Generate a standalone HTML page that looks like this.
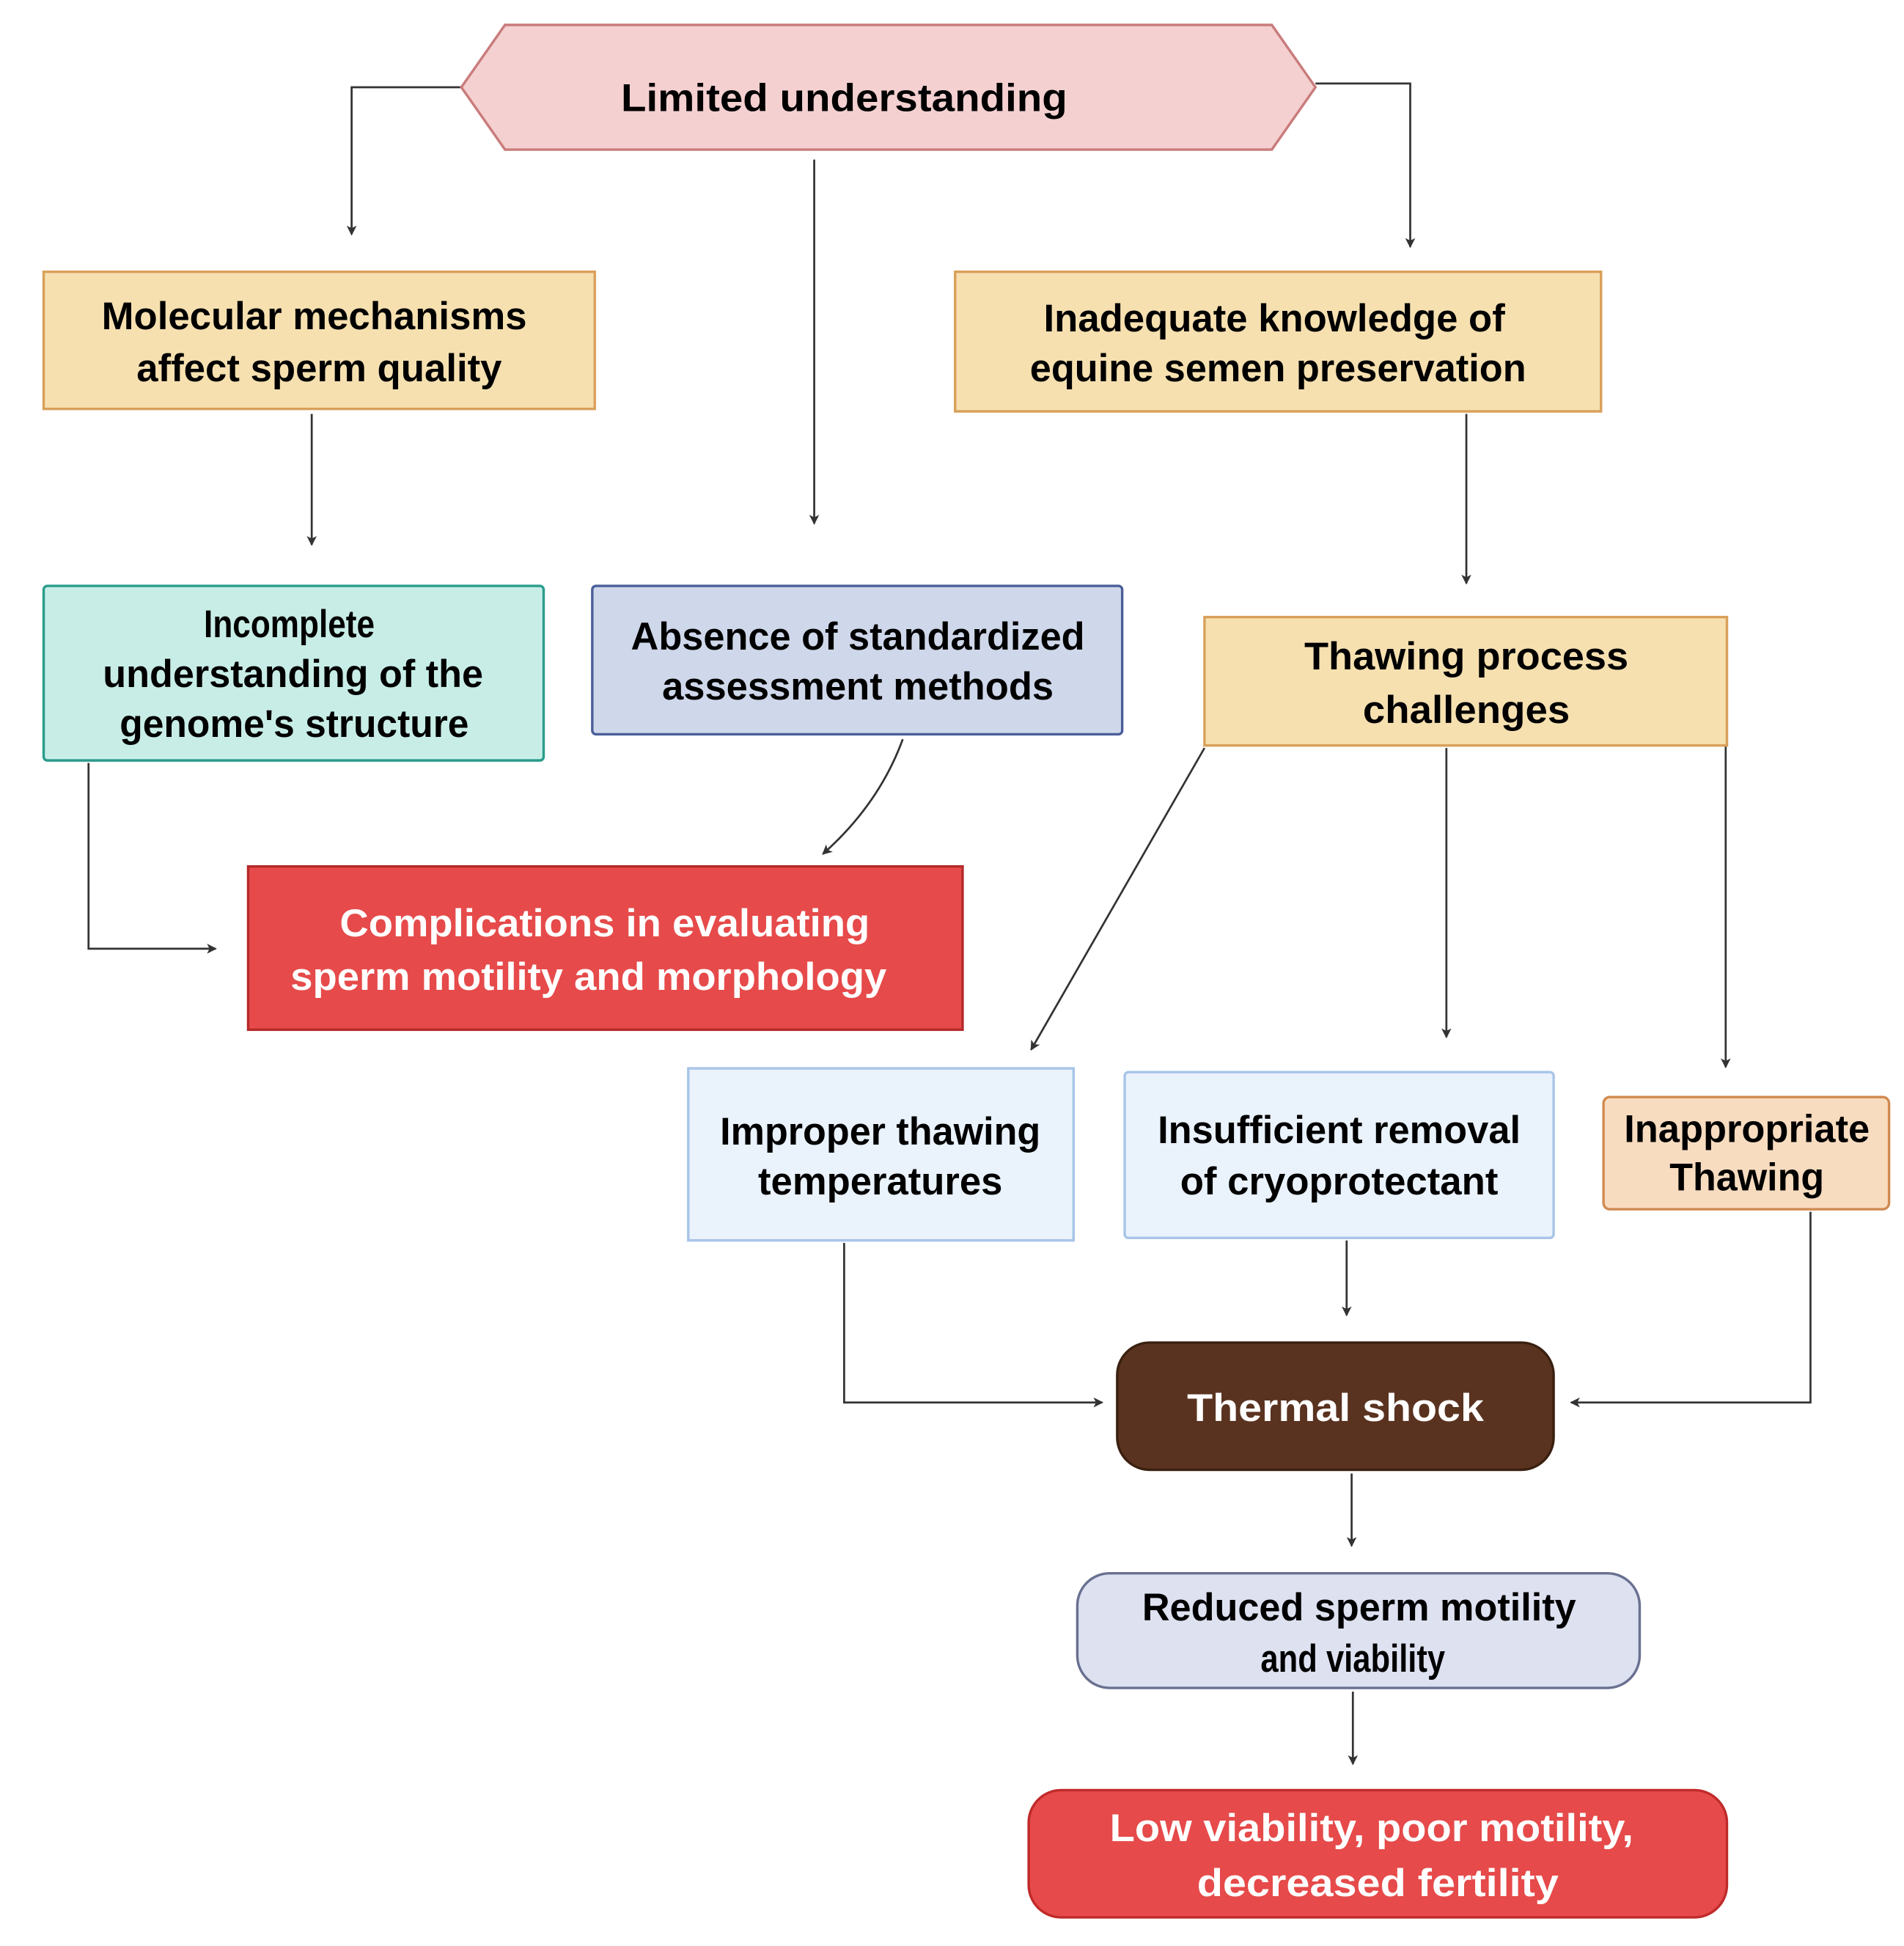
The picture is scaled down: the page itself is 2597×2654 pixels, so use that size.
<!DOCTYPE html>
<html><head><meta charset="utf-8"><style>
html,body{margin:0;padding:0;background:#fff;}
svg{display:block;}
text{font-family:"Liberation Sans Narrow","Liberation Sans",sans-serif;font-weight:bold;font-size:31px;text-anchor:middle;}
</style></head><body>
<svg width="2597" height="2654" viewBox="0 0 1527 1561" preserveAspectRatio="none" xmlns="http://www.w3.org/2000/svg">
<defs>
<marker id="a" markerWidth="8" markerHeight="8" refX="7" refY="4" orient="auto" markerUnits="userSpaceOnUse">
<path d="M0,0 L8,4 L0,8 L2,4 z" fill="#333"/></marker>
</defs>
<g stroke="#333" stroke-width="1.6" fill="none" marker-end="url(#a)">
<polyline points="370,70 282,70 282,188"/>
<polyline points="1055,67 1131,67 1131,198"/>
<polyline points="653,128 653,420"/>
<polyline points="250,332 250,437"/>
<polyline points="1176,332 1176,468"/>
<path d="M724,593 Q705,645 660,685"/>
<polyline points="71,612 71,761 173,761"/>
<polyline points="966,600 827,842"/>
<polyline points="1160,600 1160,832"/>
<polyline points="1384,598 1384,856"/>
<polyline points="677,997 677,1125 884,1125"/>
<polyline points="1080,995 1080,1055"/>
<polyline points="1452,972 1452,1125 1260,1125"/>
<polyline points="1084,1182 1084,1240"/>
<polyline points="1085,1357 1085,1415"/>
</g>
<polygon points="370,70 405,20 1020,20 1055,70 1020,120 405,120" fill="#f4d0d0" stroke="#c97b7b" stroke-width="2"/>
<text x="677" y="89" textLength="358" lengthAdjust="spacingAndGlyphs" font-size="34">Limited understanding</text>

<rect x="35" y="218" width="442" height="110" fill="#f6e0b0" stroke="#d9a05a" stroke-width="2"/>
<text x="252" y="264" textLength="341" lengthAdjust="spacingAndGlyphs">Molecular mechanisms</text>
<text x="256" y="306" textLength="293" lengthAdjust="spacingAndGlyphs">affect sperm quality</text>

<rect x="766" y="218" width="518" height="112" fill="#f6e0b0" stroke="#d9a05a" stroke-width="2"/>
<text x="1022" y="266" textLength="370" lengthAdjust="spacingAndGlyphs">Inadequate knowledge of</text>
<text x="1025" y="306" textLength="398" lengthAdjust="spacingAndGlyphs">equine semen preservation</text>

<rect x="35" y="470" width="401" height="140" rx="3" fill="#c8ede7" stroke="#2a9d8a" stroke-width="2"/>
<text x="232" y="511" textLength="137" lengthAdjust="spacingAndGlyphs">Incomplete</text>
<text x="235" y="551" textLength="305" lengthAdjust="spacingAndGlyphs">understanding of the</text>
<text x="236" y="591" textLength="280" lengthAdjust="spacingAndGlyphs">genome's structure</text>

<rect x="475" y="470" width="425" height="119" rx="3" fill="#cfd8ea" stroke="#4a5e9a" stroke-width="2"/>
<text x="688" y="521" textLength="364" lengthAdjust="spacingAndGlyphs">Absence of standardized</text>
<text x="688" y="561" textLength="314" lengthAdjust="spacingAndGlyphs">assessment methods</text>

<rect x="966" y="495" width="419" height="103" fill="#f6e0b0" stroke="#d9a05a" stroke-width="2"/>
<text x="1176" y="537" textLength="260" lengthAdjust="spacingAndGlyphs">Thawing process</text>
<text x="1176" y="580" textLength="166" lengthAdjust="spacingAndGlyphs">challenges</text>

<rect x="199" y="695" width="573" height="131" fill="#e64a4a" stroke="#b52a2a" stroke-width="2"/>
<text x="485" y="751" fill="#fff" textLength="425" lengthAdjust="spacingAndGlyphs">Complications in evaluating</text>
<text x="472" y="794" fill="#fff" textLength="478" lengthAdjust="spacingAndGlyphs">sperm motility and morphology</text>

<rect x="552" y="857" width="309" height="138" fill="#eaf2fc" stroke="#a8c4e8" stroke-width="2"/>
<text x="706" y="918" textLength="257" lengthAdjust="spacingAndGlyphs">Improper thawing</text>
<text x="706" y="958" textLength="196" lengthAdjust="spacingAndGlyphs">temperatures</text>

<rect x="902" y="860" width="344" height="133" rx="3" fill="#eaf2fc" stroke="#a8c4e8" stroke-width="2"/>
<text x="1074" y="917" textLength="291" lengthAdjust="spacingAndGlyphs">Insufficient removal</text>
<text x="1074" y="958" textLength="255" lengthAdjust="spacingAndGlyphs">of cryoprotectant</text>

<rect x="1286" y="880" width="229" height="90" rx="5" fill="#f8dcc0" stroke="#d08a50" stroke-width="2"/>
<text x="1401" y="916" textLength="197" lengthAdjust="spacingAndGlyphs">Inappropriate</text>
<text x="1401" y="955" textLength="124" lengthAdjust="spacingAndGlyphs">Thawing</text>

<rect x="896" y="1077" width="350" height="102" rx="26" fill="#5a3320" stroke="#3a2010" stroke-width="2"/>
<text x="1071" y="1140" fill="#fff" textLength="238" lengthAdjust="spacingAndGlyphs" font-size="34">Thermal shock</text>

<rect x="864" y="1262" width="451" height="92" rx="26" fill="#dde1f0" stroke="#6a7090" stroke-width="2"/>
<text x="1090" y="1300" textLength="348" lengthAdjust="spacingAndGlyphs">Reduced sperm motility</text>
<text x="1085" y="1341" textLength="148" lengthAdjust="spacingAndGlyphs">and viability</text>

<rect x="825" y="1436" width="560" height="102" rx="26" fill="#e64a4a" stroke="#c02a2a" stroke-width="2"/>
<text x="1100" y="1477" fill="#fff" textLength="420" lengthAdjust="spacingAndGlyphs">Low viability, poor motility,</text>
<text x="1105" y="1521" fill="#fff" textLength="290" lengthAdjust="spacingAndGlyphs">decreased fertility</text>
</svg>
</body></html>
